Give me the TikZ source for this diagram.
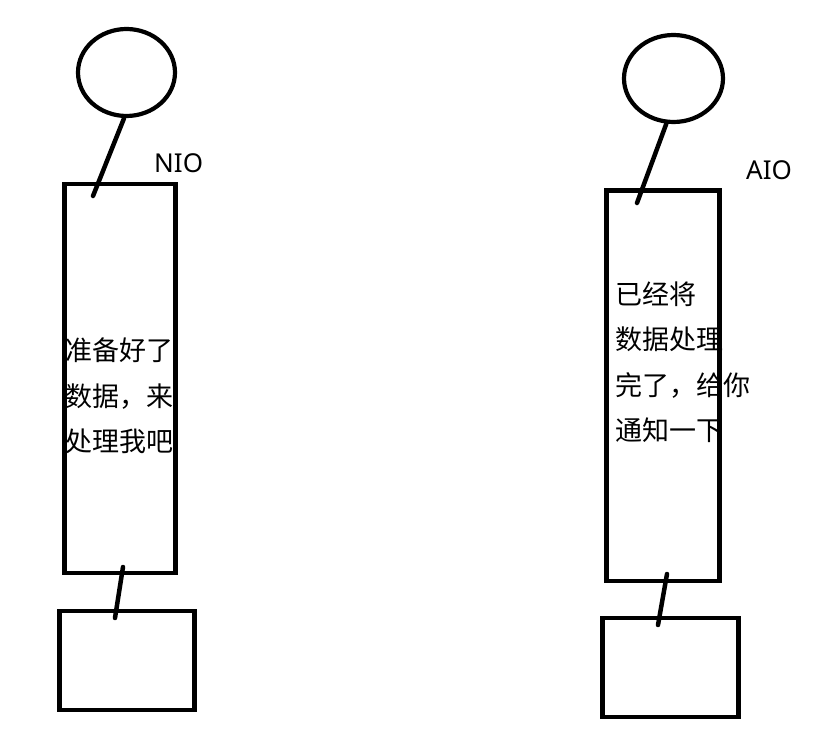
\documentclass[tikz,border=0pt]{standalone}
\usepackage{fontspec}
\newfontfamily\cjk{Noto Sans CJK SC}
\newfontfamily\latinsans{Noto Sans}
\usetikzlibrary{shapes.geometric}
\tikzset{
  ink/.style={draw=black, line width=4.5pt},
  head/.style={ink, ellipse, line width=4.2pt, inner sep=0pt},
  box/.style={ink, rectangle, inner sep=0pt},
  link/.style={draw=black, line width=4.5pt, line cap=round},
  cjktext/.style={anchor=base west, inner sep=0pt, font=\cjk\fontsize{27}{27}\selectfont},
  tag/.style={anchor=base west, inner sep=0pt, font=\latinsans\fontsize{26}{26}\selectfont}
}
\begin{document}
\begin{tikzpicture}[x=1pt,y=-1pt]
\useasboundingbox[fill=white] (0,0) rectangle (828,743);
% left group
\node[head, minimum width=97pt, minimum height=87pt] (hl) at (126.5,72.5) {};
\node[box, minimum width=111pt, minimum height=389pt] (tl) at (120,378.5) {};
\node[box, minimum width=135pt, minimum height=99pt] (sl) at (127,660.5) {};
\coordinate (l1) at (93,196);
\coordinate (l2a) at (123,567);
\coordinate (l2b) at (115,618);
\draw[link] (hl.-93) -- (l1);
\draw[link] (l2a) -- (l2b);
\node[tag] (nio) at (154,173) {NIO};
\node[cjktext] (lt1) at (65,361) {准备好了};
\node[cjktext] (lt2) at (65,407) {数据，来};
\node[cjktext] (lt3) at (65,452) {处理我吧};
% right group
\node[head, minimum width=99pt, minimum height=87pt] (hr) at (673.5,78.5) {};
\node[box, minimum width=113pt, minimum height=390.5pt] (tr) at (663,385.75) {};
\node[box, minimum width=136pt, minimum height=99pt] (sr) at (670.5,667.5) {};
\coordinate (r1) at (637,203);
\coordinate (r2a) at (667,574);
\coordinate (r2b) at (658,625);
\draw[link] (hr.-99) -- (r1);
\draw[link] (r2a) -- (r2b);
\node[tag] (aio) at (746,180) {AIO};
\node[cjktext] (rt1) at (615,305) {已经将};
\node[cjktext] (rt2) at (615,350) {数据处理};
\node[cjktext] (rt3) at (615,396) {完了，给你};
\node[cjktext] (rt4) at (615,440) {通知一下};
\end{tikzpicture}
\end{document}
